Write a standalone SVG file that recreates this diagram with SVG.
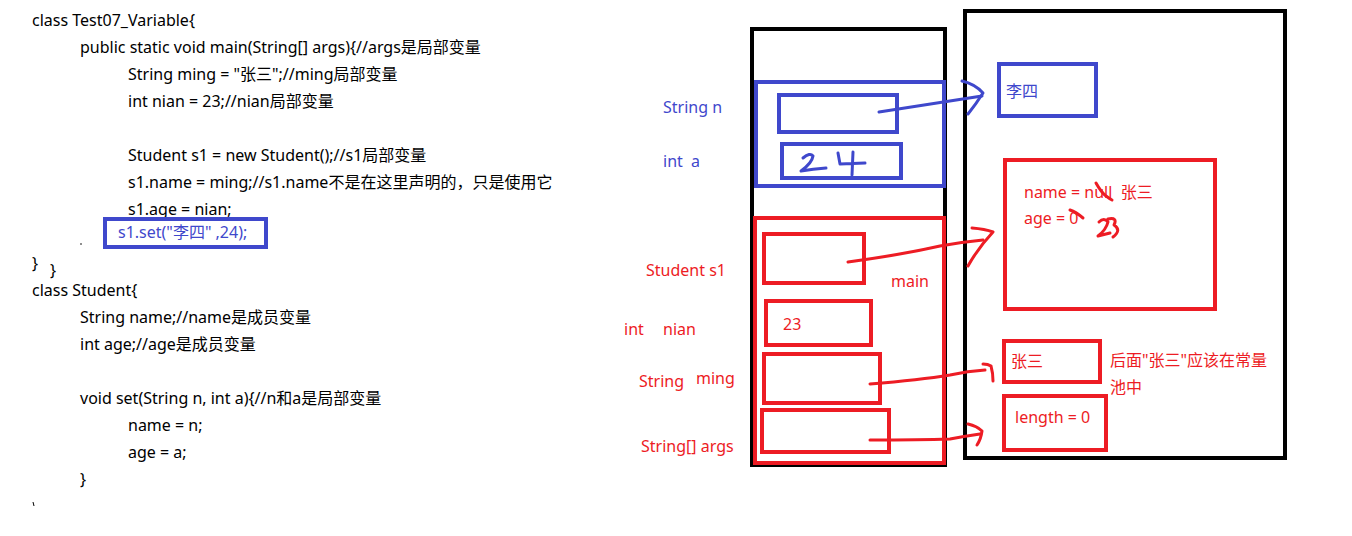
<svg xmlns="http://www.w3.org/2000/svg" width="1352" height="536" viewBox="0 0 1352 536">
<style>
text{font-family:"Noto Sans","Noto Sans CJK SC","Liberation Sans",sans-serif;font-size:16px;white-space:pre}
.code{fill:#000}
.b{fill:#3f48cc}
.r{fill:#ed1c24}
.frame{fill:none;stroke:#000;stroke-width:4}
.bb{fill:none;stroke:#3f48cc;stroke-width:4}
.rb{fill:none;stroke:#ed1c24;stroke-width:4}
.bl{fill:none;stroke:#3f48cc;stroke-width:3;stroke-linecap:round;stroke-linejoin:round}
.rl{fill:none;stroke:#ed1c24;stroke-width:3;stroke-linecap:round;stroke-linejoin:round}
</style>
<rect width="1352" height="536" fill="#fff"/>
<g id="code">
<text class="code" x="32" y="26">class Test07_Variable{</text>
<text class="code" x="80" y="53">public static void main(String[] args){//args是局部变量</text>
<text class="code" x="128" y="80">String ming = "张三";//ming局部变量</text>
<text class="code" x="128" y="107">int nian = 23;//nian局部变量</text>
<text class="code" x="128" y="161">Student s1 = new Student();//s1局部变量</text>
<text class="code" x="128" y="188">s1.name = ming;//s1.name不是在这里声明的，只是使用它</text>
<text class="code" x="128" y="215">s1.age = nian;</text>
<circle cx="81" cy="244" r="0.8" fill="#000"/>
<text class="code" x="32" y="269">}</text>
<text class="code" x="50" y="276">}</text>
<text class="code" x="32" y="296">class Student{</text>
<text class="code" x="80" y="323">String name;//name是成员变量</text>
<text class="code" x="80" y="350">int age;//age是成员变量</text>
<text class="code" x="80" y="404">void set(String n, int a){//n和a是局部变量</text>
<text class="code" x="128" y="431">name = n;</text>
<text class="code" x="128" y="458">age = a;</text>
<text class="code" x="80" y="485">}</text>
<path d="M33 502 L34 506" stroke="#000" stroke-width="1" fill="none"/>
</g>
<g id="set-call">
<rect x="105" y="219" width="161" height="28" fill="#fff" class="bb"/>
<text class="b" x="118" y="238">s1.set("李四" ,24);</text>
</g>
<g id="stack">
<rect class="frame" x="752" y="29" width="193" height="436"/>
</g>
<g id="set-frame">
<rect class="bb" x="756" y="82" width="188" height="104"/>
<rect class="bb" x="779" y="95" width="118" height="37"/>
<rect class="bb" x="782" y="144" width="119" height="34"/>
<path class="bl" d="M803 158 Q810 152 813 156 Q812 163 801 171 Q813 169 826 168"/>
<path class="bl" d="M838 153 L840 164 L865 163 M853 152 L852 175"/>
<text class="b" x="663" y="113">String n</text>
<text class="b" x="663" y="167" xml:space="preserve">int  a</text>
</g>
<g id="main-frame">
<rect class="rb" x="755" y="218" width="189" height="245"/>
<rect class="rb" x="764" y="234" width="100" height="49"/>
<rect class="rb" x="766" y="301" width="105" height="44"/>
<rect class="rb" x="764" y="354" width="116" height="49"/>
<rect class="rb" x="762" y="410" width="127" height="42"/>
<text class="r" x="783" y="330">23</text>
<text class="r" x="891" y="287">main</text>
<text class="r" x="646" y="276">Student s1</text>
<text class="r" x="624" y="335">int</text>
<text class="r" x="663" y="335">nian</text>
<text class="r" x="639" y="387">String</text>
<text class="r" x="696" y="384">ming</text>
<text class="r" x="641" y="452">String[] args</text>
</g>
<g id="heap">
<rect class="frame" x="965" y="11" width="320" height="447"/>
</g>
<g id="lisi">
<rect class="bb" x="999" y="64" width="97" height="52"/>
<text class="b" x="1006" y="97">李四</text>
</g>
<g id="student-obj">
<rect class="rb" x="1005" y="160" width="210" height="149"/>
<text class="r" x="1024" y="198" xml:space="preserve">name = null  张三</text>
<text class="r" x="1024" y="224">age = 0</text>
<path class="rl" d="M1096 183 Q1101 192 1106 196 Q1110 199 1112 200"/>
<path class="rl" d="M1070 210 Q1076 212 1083 218"/>
<path class="rl" d="M1099 222 Q1104 217 1108 222 Q1106 230 1098 236 L1110 233 M1108 219 Q1118 217 1114 225 Q1122 230 1113 237"/>
</g>
<g id="zhangsan">
<rect class="rb" x="1004" y="341" width="96" height="41"/>
<text class="r" x="1011" y="367">张三</text>
<text class="r" x="1110" y="366">后面"张三"应该在常量</text>
<text class="r" x="1110" y="393">池中</text>
</g>
<g id="args-array">
<rect class="rb" x="1004" y="396" width="102" height="54"/>
<text class="r" x="1015" y="423">length = 0</text>
</g>
<g id="connectors">
<path class="bl" d="M879 112 Q930 104 982 96"/>
<path class="bl" d="M962 81 Q975 84 983 93 Q976 104 968 114"/>
<path class="rl" d="M848 262 Q900 255 940 246 Q962 242 983 240"/>
<path class="rl" d="M972 228 Q985 229 993 232 Q978 248 968 266"/>
<path class="rl" d="M870 384 Q920 380 950 375 Q968 371 985 370"/>
<path class="rl" d="M983 364 Q988 364 991 366 Q993 373 993 381"/>
<path class="rl" d="M870 440 Q920 440 950 439 Q966 436 980 434"/>
<path class="rl" d="M968 424 Q977 426 982 431 Q981 439 977 445"/>
</g>
</svg>
